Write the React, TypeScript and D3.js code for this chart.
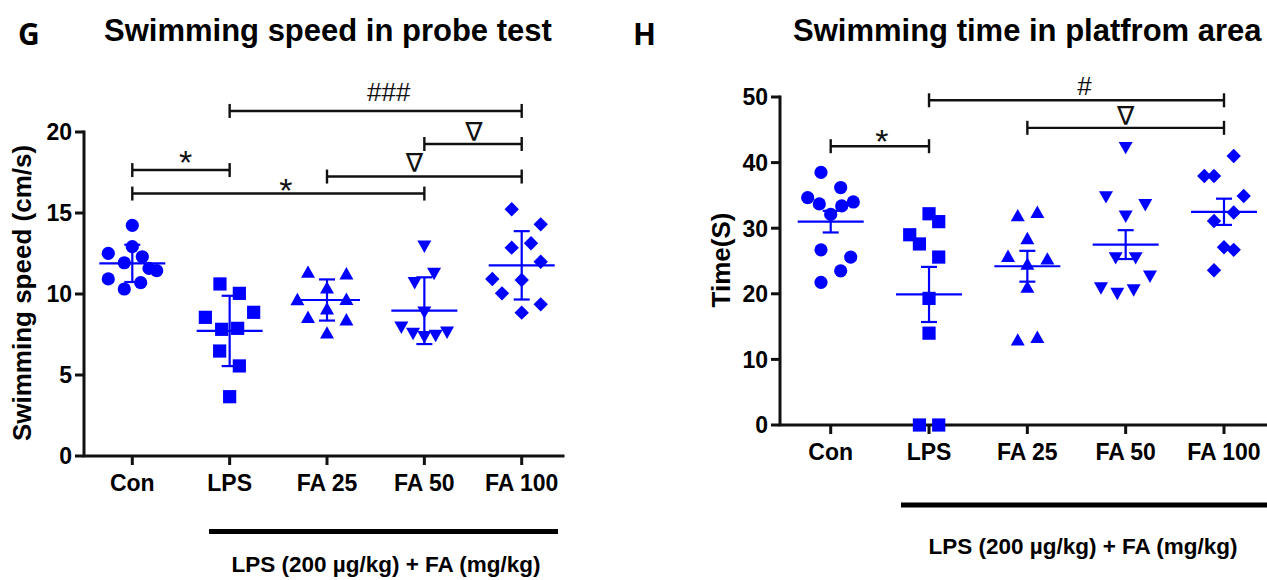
import React from "react";
import * as d3 from "d3";

// ---------- categories ----------
const groups = ["Con", "LPS", "FA 25", "FA 50", "FA 100"];
const markerKinds = ["circle", "square", "up", "down", "diamond"];

// ---------- Panel G : swimming speed in probe test (cm/s) ----------
const speedCon = [14.24, 12.92, 12.51, 12.3, 11.93, 11.58, 11.44, 10.93, 10.7, 10.31];
const speedLPS = [10.62, 10.04, 8.87, 8.56, 7.82, 7.88, 6.48, 5.56, 3.66];
const speedFA25 = [11.38, 11.28, 10.41, 9.71, 9.69, 9.12, 8.6, 8.44, 7.63];
const speedFA50 = [12.92, 11.23, 10.66, 8.85, 7.92, 7.53, 7.33, 7.41, 7.61];
const speedFA100 = [15.23, 14.3, 13.13, 12.86, 11.99, 10.86, 10.93, 10.04, 9.36, 8.85];
const speedMean = [11.89, 7.72, 9.63, 8.97, 11.77];
const speedErr = [1.15, 2.17, 1.27, 2.06, 2.11];
const speedTicks = [0, 5, 10, 15, 20];
// column-scatter spread of each point (offset from the column centre)
const speedSpread = [
  [0, 0, -24, 10, -8, 16.7, 24.4, -24, 8.4, -8],
  [-9.7, 9.7, 24, -24.3, -8, 8, -10, 9.7, 0],
  [-19, 19.4, 0, 19.4, -29.6, 0, -19, 19.4, 0],
  [0, 9.7, -9.7, 0, -23, -11.3, 0, 11.3, 22.7],
  [-10, 19, 9.3, -10, 19, 0, -29.4, -19.7, 19, 0],
];
const speedBrackets = [
  { a: 1, b: 4, y: 21.3, label: "###", ldx: 13, ldy: -19 },
  { a: 3, b: 4, y: 19.26, label: "∇", ldx: 1, ldy: -11 },
  { a: 2, b: 4, y: 17.25, label: "∇", ldx: -10, ldy: -13.5 },
  { a: 0, b: 1, y: 17.65, label: "*", ldx: 4.6, ldy: -15 },
  { a: 0, b: 3, y: 16.2, label: "*", ldx: 7.5, ldy: -10.5 },
];

// ---------- Panel H : swimming time in platform area (s) ----------
const timeCon = [38.5, 36.2, 34.65, 33.7, 33.4, 34.0, 32.1, 26.7, 25.6, 23.5, 21.75];
const timeLPS = [32.2, 31.0, 29.0, 27.6, 25.6, 19.3, 14.0, 0, 0];
const timeFA25 = [32.0, 32.5, 28.5, 25.8, 25.4, 24.6, 21.1, 13.06, 13.46];
const timeFA50 = [42.2, 34.7, 33.5, 31.75, 25.4, 25.4, 22.6, 20.8, 19.97, 20.5];
const timeFA100 = [41.0, 37.96, 37.96, 34.9, 32.4, 31.1, 27.1, 26.7, 23.6];
const timeMean = [31.0, 19.9, 24.2, 27.5, 32.5];
const timeErr = [1.65, 4.2, 2.35, 2.2, 2.0];
const timeTicks = [0, 10, 20, 30, 40, 50];
const timeSpread = [
  [-9.7, 10, -23, -11.4, 11, 22.6, 0, -9.7, 20, 10, -9.7],
  [0, 9.7, -19.3, -9.6, 9.7, 0, 0, -9.6, 9.7],
  [-9.6, 10, 0, -19.3, 20, 0, 0, -9.6, 10],
  [0, -19.7, 19.6, 0, -10, 10, 24.3, -24.7, -8.4, 8],
  [9.7, -19.7, -10, 19.7, 9.7, -10, 0, 9.7, -10],
];
const timeBrackets = [
  { a: 1, b: 4, y: 49.5, label: "#", ldx: 8, ldy: -14 },
  { a: 2, b: 4, y: 45.3, label: "∇", ldx: 0, ldy: -11 },
  { a: 0, b: 1, y: 42.5, label: "*", ldx: 2, ldy: -13 },
];

const speedSeries = [speedCon, speedLPS, speedFA25, speedFA50, speedFA100];
const timeSeries = [timeCon, timeLPS, timeFA25, timeFA50, timeFA100];

const FONT = "'Liberation Sans', Arial, Helvetica, sans-serif";
const BLUE = "#0000ff";
const INK = "#111";

function Marker({ kind, cx, cy }: { kind: string; cx: number; cy: number }) {
  const s = 6.6;
  if (kind === "circle") return <circle cx={cx} cy={cy} r={s} fill={BLUE} />;
  if (kind === "square")
    return <rect x={cx - s} y={cy - s} width={2 * s} height={2 * s} fill={BLUE} />;
  let pts = "";
  if (kind === "up") pts = `${cx - 7},${cy + 6.2} ${cx + 7},${cy + 6.2} ${cx},${cy - 6.2}`;
  if (kind === "down") pts = `${cx - 7},${cy - 6.2} ${cx + 7},${cy - 6.2} ${cx},${cy + 6.2}`;
  if (kind === "diamond") pts = `${cx},${cy - 7.2} ${cx + 7.2},${cy} ${cx},${cy + 7.2} ${cx - 7.2},${cy}`;
  return <polygon points={pts} fill={BLUE} />;
}

function SigLabel({ label, x, y }: { label: string; x: number; y: number }) {
  if (label === "*")
    return (
      <text x={x} y={y + 19.4} textAnchor="middle" fontFamily={FONT} fontSize={34} fill={INK}>
        *
      </text>
    );
  if (label.startsWith("#"))
    return (
      <text x={x} y={y + 9.2} textAnchor="middle" fontFamily={FONT} fontSize={26} fill={INK}>
        {label}
      </text>
    );
  return (
    <text x={x} y={y + 8.5} textAnchor="middle" fontFamily="'DejaVu Sans', sans-serif" fontSize={26} fill={INK}>
      {label}
    </text>
  );
}

type Cfg = {
  axisX: number;
  axisRight: number;
  y0: number;
  yTop: number;
  xFirst: number;
  xLast: number;
  yMax: number;
  letter: string;
  letterX: number;
  title: string;
  titleX: number;
  yTitle: string;
  yTitleX: number;
  yTitleY: number;
  xLabelY: number;
  barX1: number;
  barX2: number;
  barY: number;
  noteX: number;
  noteY: number;
};

function Panel({
  cfg,
  series,
  spread,
  mean,
  err,
  ticks,
  brackets,
}: {
  cfg: Cfg;
  series: number[][];
  spread: number[][];
  mean: number[];
  err: number[];
  ticks: number[];
  brackets: { a: number; b: number; y: number; label: string; ldx: number; ldy: number }[];
}) {
  const y = d3.scaleLinear().domain([0, cfg.yMax]).range([cfg.y0, cfg.yTop]);
  const x = d3.scalePoint<string>().domain(groups).range([cfg.xFirst, cfg.xLast]);
  const px = (i: number) => x(groups[i]) as number;
  return (
    <g>
      <text x={cfg.letterX} y={45} fontFamily="'Noto Sans', 'Open Sans', sans-serif" fontWeight="bold" fontSize={30} fill="#000">
        {cfg.letter}
      </text>
      <text x={cfg.titleX} y={41} fontFamily={FONT} fontWeight="bold" fontSize={31} fill="#000">
        {cfg.title}
      </text>
      <text
        transform={`translate(${cfg.yTitleX},${cfg.yTitleY}) rotate(-90)`}
        textAnchor="middle"
        dominantBaseline="central"
        fontFamily={FONT}
        fontWeight="bold"
        fontSize={26}
        fill="#000"
      >
        {cfg.yTitle}
      </text>
      {/* axes */}
      <path
        d={`M${cfg.axisX},${y(cfg.yMax)} V${cfg.y0} H${cfg.axisRight}`}
        fill="none"
        stroke={INK}
        strokeWidth={3}
        strokeLinecap="square"
      />
      {ticks.map((t) => (
        <g key={"yt" + t}>
          <line x1={cfg.axisX - 9} x2={cfg.axisX} y1={y(t)} y2={y(t)} stroke={INK} strokeWidth={3} />
          <text
            x={cfg.axisX - 12}
            y={y(t) + 8.3}
            textAnchor="end"
            fontFamily={FONT}
            fontWeight="bold"
            fontSize={23}
            fill="#000"
          >
            {t}
          </text>
        </g>
      ))}
      {groups.map((g) => (
        <g key={"xt" + g}>
          <line x1={x(g)} x2={x(g)} y1={cfg.y0} y2={cfg.y0 + 9} stroke={INK} strokeWidth={3} />
          <text x={x(g)} y={cfg.xLabelY} textAnchor="middle" fontFamily={FONT} fontWeight="bold" fontSize={23} fill="#000">
            {g}
          </text>
        </g>
      ))}
      {/* group bar + note */}
      <line x1={cfg.barX1} x2={cfg.barX2} y1={cfg.barY} y2={cfg.barY} stroke="#000" strokeWidth={5} />
      <text x={cfg.noteX} y={cfg.noteY} textAnchor="middle" fontFamily={FONT} fontWeight="bold" fontSize={22.5} fill="#000">
        LPS (200 µg/kg) + FA (mg/kg)
      </text>
      {/* points */}
      {series.map((vals, gi) =>
        vals.map((v, k) => (
          <Marker key={`p${gi}-${k}`} kind={markerKinds[gi]} cx={px(gi) + spread[gi][k]} cy={y(v)} />
        ))
      )}
      {/* mean & error */}
      {mean.map((m, gi) => {
        const cx = px(gi);
        return (
          <g key={"m" + gi} stroke={BLUE} strokeWidth={2.2}>
            <line x1={cx - 33} x2={cx + 33} y1={y(m)} y2={y(m)} />
            <line x1={cx} x2={cx} y1={y(m - err[gi])} y2={y(m + err[gi])} />
            <line x1={cx - 8} x2={cx + 8} y1={y(m + err[gi])} y2={y(m + err[gi])} />
            <line x1={cx - 8} x2={cx + 8} y1={y(m - err[gi])} y2={y(m - err[gi])} />
          </g>
        );
      })}
      {/* significance brackets */}
      {brackets.map((b, i) => {
        const x1 = px(b.a);
        const x2 = px(b.b);
        const yy = y(b.y);
        return (
          <g key={"b" + i}>
            <g stroke={INK} strokeWidth={2.4}>
              <line x1={x1} x2={x2} y1={yy} y2={yy} />
              <line x1={x1} x2={x1} y1={yy - 7} y2={yy + 7} />
              <line x1={x2} x2={x2} y1={yy - 7} y2={yy + 7} />
            </g>
            <SigLabel label={b.label} x={(x1 + x2) / 2 + b.ldx} y={yy + b.ldy} />
          </g>
        );
      })}
    </g>
  );
}

const cfgG: Cfg = {
  axisX: 84,
  axisRight: 563,
  y0: 456,
  yTop: 132,
  xFirst: 132.3,
  xLast: 521.7,
  yMax: 20,
  letter: "G",
  letterX: 18,
  title: "Swimming speed in probe test",
  titleX: 104,
  yTitle: "Swimming speed (cm/s)",
  yTitleX: 22,
  yTitleY: 293,
  xLabelY: 491,
  barX1: 209,
  barX2: 558,
  barY: 531.5,
  noteX: 386,
  noteY: 572,
};

const cfgH: Cfg = {
  axisX: 780,
  axisRight: 1267,
  y0: 425,
  yTop: 97,
  xFirst: 830.7,
  xLast: 1224,
  yMax: 50,
  letter: "H",
  letterX: 633,
  title: "Swimming time in platfrom area",
  titleX: 793,
  yTitle: "Time(S)",
  yTitleX: 721,
  yTitleY: 260,
  xLabelY: 460,
  barX1: 901,
  barX2: 1267,
  barY: 505,
  noteX: 1083,
  noteY: 554,
};

export default function App() {
  return (
    <svg
      width={1267}
      height={580}
      viewBox="0 0 1267 580"
      style={{ position: "absolute", left: 0, top: 0, background: "#fff" }}
    >
      <rect x={0} y={0} width={1267} height={580} fill="#fff" />
      <Panel
        cfg={cfgG}
        series={speedSeries}
        spread={speedSpread}
        mean={speedMean}
        err={speedErr}
        ticks={speedTicks}
        brackets={speedBrackets}
      />
      <Panel
        cfg={cfgH}
        series={timeSeries}
        spread={timeSpread}
        mean={timeMean}
        err={timeErr}
        ticks={timeTicks}
        brackets={timeBrackets}
      />
    </svg>
  );
}
